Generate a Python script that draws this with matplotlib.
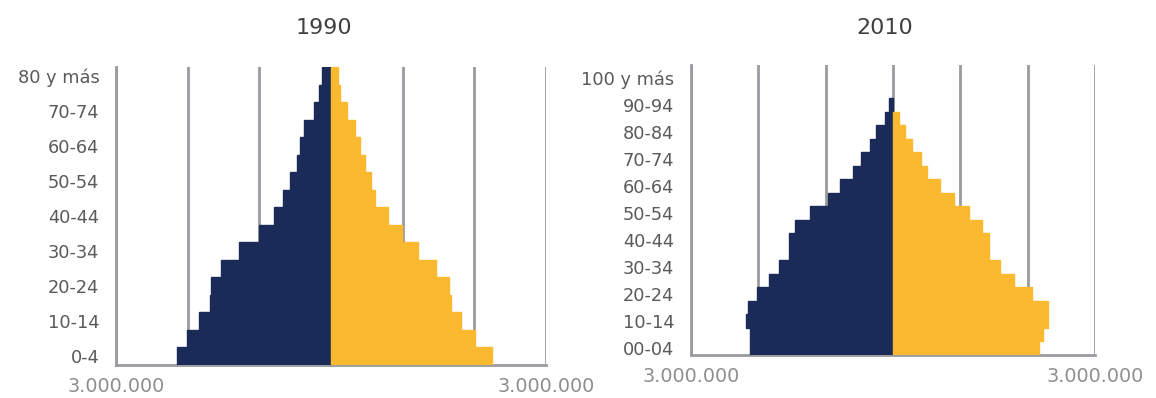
import matplotlib
matplotlib.use("Agg")
import matplotlib.pyplot as plt
import numpy as np

# ---------------- data ----------------
cats_1990 = ["0-4", "5-9", "10-14", "15-19", "20-24", "25-29", "30-34", "35-39",
             "40-44", "45-49", "50-54", "55-59", "60-64", "65-69", "70-74",
             "75-79", "80 y más"]
male_1990 = [2.155, 2.015, 1.845, 1.69, 1.67, 1.53, 1.285, 1.00, 0.80, 0.67,
             0.575, 0.477, 0.435, 0.38, 0.24, 0.17, 0.128]
female_1990 = [2.25, 2.015, 1.82, 1.67, 1.64, 1.46, 1.21, 0.985, 0.79, 0.62,
               0.565, 0.47, 0.41, 0.33, 0.23, 0.12, 0.10]

cats_2010 = ["00-04", "05-09", "10-14", "15-19", "20-24", "25-29", "30-34",
             "35-39", "40-44", "45-49", "50-54", "55-59", "60-64", "65-69",
             "70-74", "75-79", "80-84", "85-89", "90-94", "95-99", "100 y más"]
male_2010 = [2.125, 2.125, 2.18, 2.15, 2.02, 1.84, 1.70, 1.54, 1.54, 1.455,
             1.235, 0.965, 0.79, 0.59, 0.47, 0.34, 0.25, 0.115, 0.055, 0.0, 0.0]
female_2010 = [2.17, 2.23, 2.30, 2.30, 2.065, 1.80, 1.59, 1.43, 1.43, 1.32,
               1.13, 0.905, 0.70, 0.505, 0.415, 0.28, 0.18, 0.09, 0.0, 0.0, 0.0]

titles = ["1990", "2010"]
x_tick_labels = ["3.000.000", "3.000.000"]

SCALE = 1_000_000
NAVY = "#1b2b57"
GOLD = "#fbb92f"
GRID = "#9b9a9f"
YLAB = "#5a5a5a"
XLAB = "#8e8e8e"
TITLE = "#404040"

plt.rcParams["font.family"] = ["DejaVu Sans"]

W, H = 1156, 398
fig = plt.figure(figsize=(W / 100, H / 100), dpi=100)


def fx(px):
    return px / W


def fy(px):
    return 1 - px / H


def pyramid(rect, cats, male, female, ytop):
    ax = fig.add_axes(rect)
    y = np.arange(len(cats))
    m = -np.array(male) * SCALE
    f = np.array(female) * SCALE
    lw_m = [1.0 if v != 0 else 0.0 for v in m]
    lw_f = [1.0 if v != 0 else 0.0 for v in f]
    ax.barh(y, m, height=1.0, color=NAVY, edgecolor=NAVY, linewidth=lw_m, zorder=3)
    ax.barh(y, f, height=1.0, color=GOLD, edgecolor=GOLD, linewidth=lw_f, zorder=3)
    ax.set_xlim(-3 * SCALE, 3 * SCALE)
    ax.set_ylim(-0.5, ytop)
    ax.set_xticks(np.arange(-3, 4) * SCALE)
    labels = [""] * 7
    labels[0] = x_tick_labels[0]
    labels[-1] = x_tick_labels[1]
    ax.set_xticklabels(labels, fontsize=13.8, color=XLAB)
    ax.set_yticks(y[::2])
    ax.set_yticklabels(cats[::2], fontsize=12.8, color=YLAB)
    ax.tick_params(axis="both", length=0)
    ax.tick_params(axis="y", pad=12)
    ax.tick_params(axis="x", pad=9)
    ax.set_axisbelow(True)
    ax.grid(axis="x", color=GRID, linewidth=2.0, zorder=0)
    ax.grid(axis="y", visible=False)
    for s in ["top", "right"]:
        ax.spines[s].set_visible(False)
    for s in ["left", "bottom"]:
        ax.spines[s].set_color(GRID)
        ax.spines[s].set_linewidth(2.0)
    ax.set_facecolor("none")
    return ax


ax1 = pyramid([fx(116), fy(365), fx(546) - fx(116), fy(67) - fy(365)],
              cats_1990, male_1990, female_1990, 16.5)
ax2 = pyramid([fx(691), fy(355), fx(1095) - fx(691), fy(65) - fy(355)],
              cats_2010, male_2010, female_2010, 20.98)

fig.text(fx(324), fy(28), titles[0], ha="center", va="center", fontsize=16, color=TITLE)
fig.text(fx(885), fy(28), titles[1], ha="center", va="center", fontsize=16, color=TITLE)

fig.savefig("out.png", dpi=100, facecolor="white")
